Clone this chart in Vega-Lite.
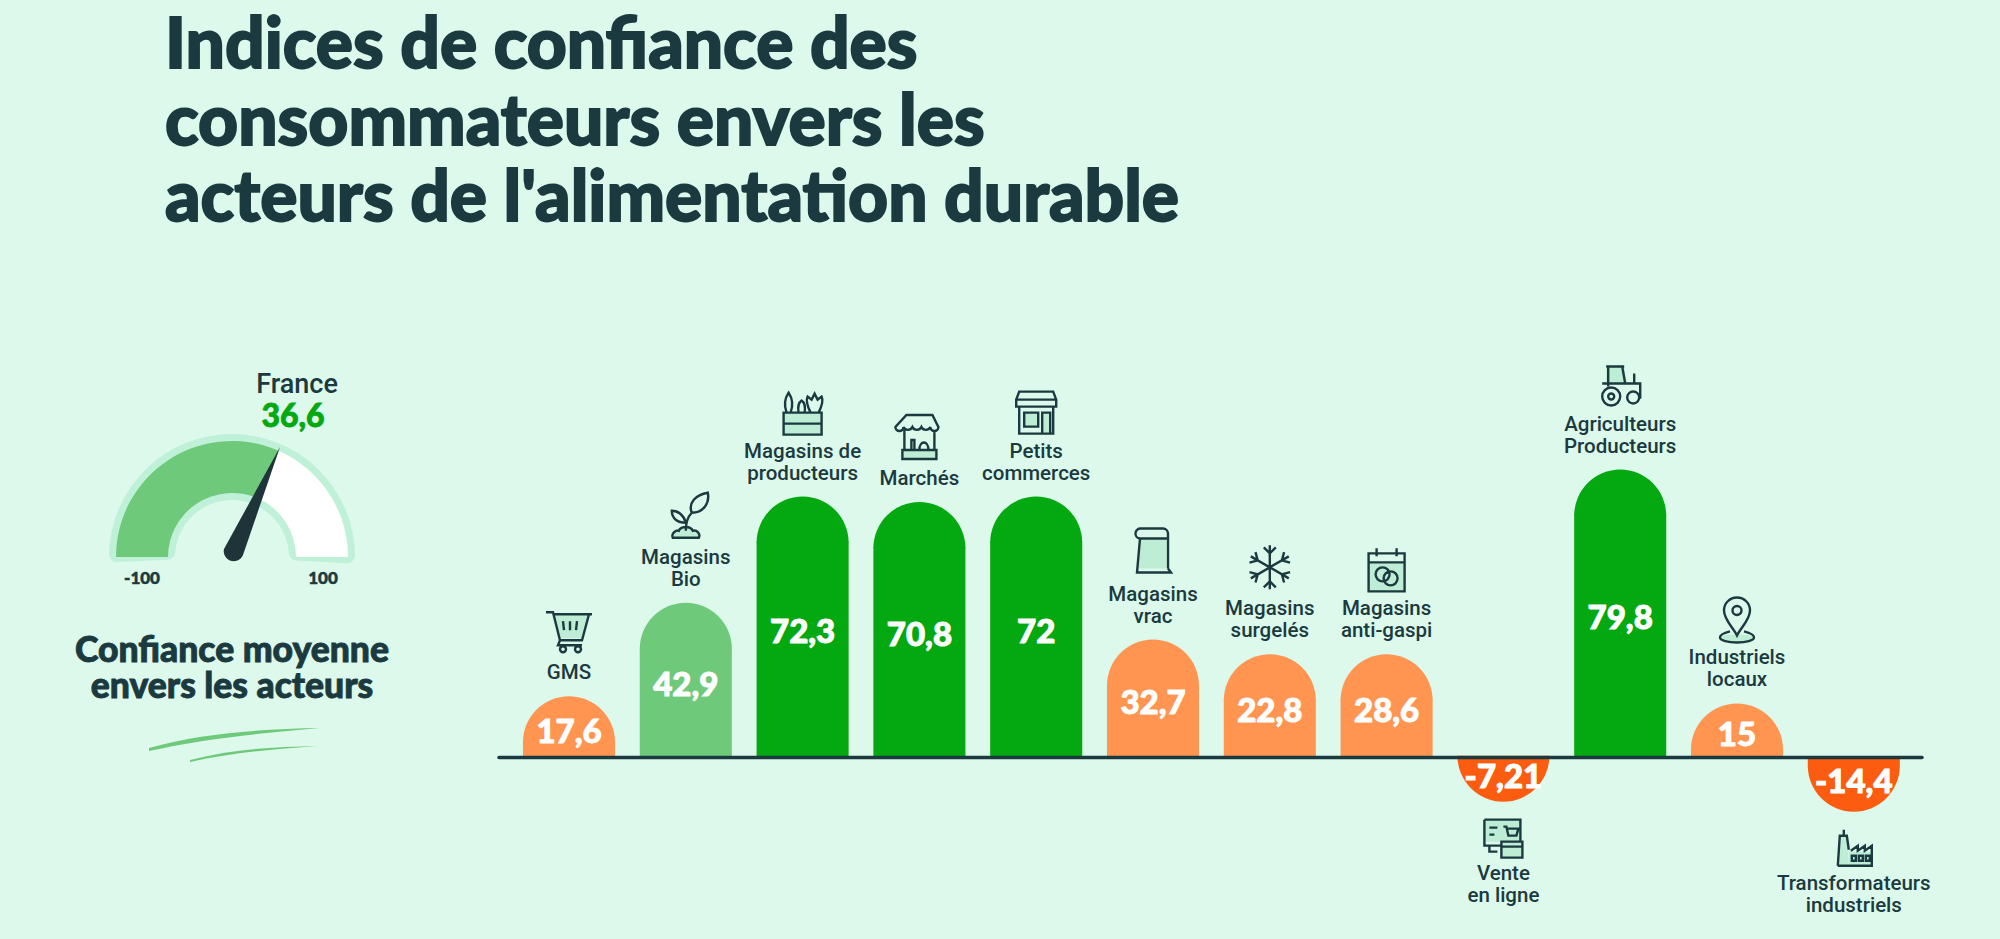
{
"$schema":"https://vega.github.io/schema/vega-lite/v6.json",
"autosize":{"type":"fit","contains":"padding"},
"width":2000,"height":939,"padding":0,
"background":"#dcf9eb",
"config":{"view":{"stroke":null}},
"datasets":{
"acteurs":[
{"acteur":"GMS","libelle":"GMS","valeur":17.6,"etiquette":"17,6","hauteur":17},
{"acteur":"Magasins Bio","libelle":"Magasins\nBio","valeur":42.9,"etiquette":"42,9","hauteur":42.9},
{"acteur":"Magasins de producteurs","libelle":"Magasins de\nproducteurs","valeur":72.3,"etiquette":"72,3","hauteur":72.3},
{"acteur":"Marchés","libelle":"Marchés","valeur":70.8,"etiquette":"70,8","hauteur":70.8},
{"acteur":"Petits commerces","libelle":"Petits\ncommerces","valeur":72,"etiquette":"72","hauteur":72.3},
{"acteur":"Magasins vrac","libelle":"Magasins\nvrac","valeur":32.7,"etiquette":"32,7","hauteur":32.7},
{"acteur":"Magasins surgelés","libelle":"Magasins\nsurgelés","valeur":22.8,"etiquette":"22,8","hauteur":28.6},
{"acteur":"Magasins anti-gaspi","libelle":"Magasins\nanti-gaspi","valeur":28.6,"etiquette":"28,6","hauteur":28.6},
{"acteur":"Vente en ligne","libelle":"Vente\nen ligne","valeur":-7.21,"etiquette":"-7,21","hauteur":-12.2},
{"acteur":"Agriculteurs Producteurs","libelle":"Agriculteurs\nProducteurs","valeur":79.8,"etiquette":"79,8","hauteur":79.8},
{"acteur":"Industriels locaux","libelle":"Industriels\nlocaux","valeur":15,"etiquette":"15","hauteur":15},
{"acteur":"Transformateurs industriels","libelle":"Transformateurs\nindustriels","valeur":-14.4,"etiquette":"-14,4","hauteur":-15}
],
"jauge":[
{"segment":"fond","debut":-103,"fin":103},
{"segment":"score","debut":-100,"fin":36.6},
{"segment":"reste","debut":36.6,"fin":100}
]
},
"layer":[
{"data":{"values":[{"texte":"Indices de confiance des\nconsommateurs envers les\nacteurs de l'alimentation durable"}]},
 "mark":{"type":"text","font":"Lato","fontWeight":900,"fontSize":69.5,"lineHeight":76.5,"lineBreak":"\n","align":"left","baseline":"top","color":"#1b3a40","stroke":"#1b3a40","strokeWidth":1.8},
 "encoding":{
  "x":{"datum":0,"type":"quantitative","scale":{"domain":[0,1],"range":[165,1200]},"axis":null},
  "y":{"datum":0,"type":"quantitative","scale":{"domain":[0,1],"range":[13,240]},"axis":null},
  "text":{"field":"texte"}}},
{"data":{"name":"jauge"},"transform":[{"filter":"datum.segment==='fond'"}],
 "mark":{"type":"arc","radius":123,"radius2":57,"cornerRadius":8,"fill":"#bff0d8"},
 "encoding":{
  "x":{"datum":0,"type":"quantitative","scale":{"domain":[-100,100],"range":[116,348]},"axis":null},
  "y":{"datum":0,"type":"quantitative","scale":{"domain":[0,1],"range":[557,440]},"axis":null},
  "theta":{"field":"debut","type":"quantitative","scale":{"domain":[-100,36.6,100],"range":[-1.5708,0.412,1.5708]}},
  "theta2":{"field":"fin"}}},
{"data":{"name":"jauge"},"transform":[{"filter":"datum.segment!=='fond'"}],
 "mark":{"type":"arc","radius":116,"radius2":64},
 "encoding":{
  "x":{"datum":0,"type":"quantitative","scale":{"domain":[-100,100],"range":[116,348]},"axis":null},
  "y":{"datum":0,"type":"quantitative","scale":{"domain":[0,1],"range":[557,440]},"axis":null},
  "theta":{"field":"debut","type":"quantitative","scale":{"domain":[-100,36.6,100],"range":[-1.5708,0.412,1.5708]}},
  "theta2":{"field":"fin"},
  "color":{"field":"segment","type":"nominal","scale":{"domain":["score","reste"],"range":["#6fc97a","#ffffff"]},"legend":null}}},
{"data":{"values":[{"indice":"France","valeur":36.6}]},
 "mark":{"type":"point","filled":true,"size":4,"opacity":1,"fill":"#1e3438","shape":"M48,-110L11,-2a10,10 0 0 1 -19,-6z"},
 "encoding":{
  "x":{"datum":0,"type":"quantitative","scale":{"domain":[-100,100],"range":[116,348]},"axis":null},
  "y":{"datum":0,"type":"quantitative","scale":{"domain":[0,1],"range":[557,440]},"axis":null}}},
{"data":{"values":[{"indice":"France","valeur":36.6}]},
 "mark":{"type":"point","filled":true,"size":4,"opacity":1,"fill":"#6fc97a","shape":"M-83,191C-30,176 30,172 88,171C30,176 -30,182 -83,194zM-42,203C0,192 40,190 86,189C40,192 0,196 -42,205z"},
 "encoding":{
  "x":{"datum":0,"type":"quantitative","scale":{"domain":[-100,100],"range":[116,348]},"axis":null},
  "y":{"datum":0,"type":"quantitative","scale":{"domain":[0,1],"range":[557,440]},"axis":null}}},
{"data":{"values":[{"texte":"France"}]},
 "mark":{"type":"text","font":"Roboto","fontWeight":500,"fontSize":27,"color":"#1b3a40","dx":65,"dy":-172},
 "encoding":{
  "x":{"datum":0,"type":"quantitative","scale":{"domain":[-100,100],"range":[116,348]},"axis":null},
  "y":{"datum":0,"type":"quantitative","scale":{"domain":[0,1],"range":[557,440]},"axis":null},
  "text":{"field":"texte"}}},
{"data":{"values":[{"texte":"36,6"}]},
 "mark":{"type":"text","font":"Lato","fontWeight":900,"fontSize":32,"color":"#04a811","stroke":"#04a811","strokeWidth":0.8,"dx":61,"dy":-140},
 "encoding":{
  "x":{"datum":0,"type":"quantitative","scale":{"domain":[-100,100],"range":[116,348]},"axis":null},
  "y":{"datum":0,"type":"quantitative","scale":{"domain":[0,1],"range":[557,440]},"axis":null},
  "text":{"field":"texte"}}},
{"data":{"values":[{"texte":"-100","borne":-100},{"texte":"100","borne":100}]},
 "mark":{"type":"text","font":"Lato","fontWeight":900,"fontSize":17,"color":"#1b3a40","stroke":"#1b3a40","strokeWidth":0.5,"dy":22},
 "encoding":{
  "x":{"field":"borne","type":"quantitative","scale":{"domain":[-100,100],"range":[142,323]},"axis":null},
  "y":{"datum":0,"type":"quantitative","scale":{"domain":[0,1],"range":[557,440]},"axis":null},
  "text":{"field":"texte"}}},
{"data":{"values":[{"texte":"Confiance moyenne\nenvers les acteurs"}]},
 "mark":{"type":"text","font":"Lato","fontWeight":900,"fontSize":35.5,"lineHeight":36,"lineBreak":"\n","color":"#1b3a40","stroke":"#1b3a40","strokeWidth":0.9,"dy":94,"baseline":"middle"},
 "encoding":{
  "x":{"datum":0,"type":"quantitative","scale":{"domain":[-100,100],"range":[116,348]},"axis":null},
  "y":{"datum":0,"type":"quantitative","scale":{"domain":[0,1],"range":[557,440]},"axis":null},
  "text":{"field":"texte"}}},
{"data":{"name":"acteurs"},
 "transform":[{"calculate":"datum.hauteur>0?datum.hauteur-12.44:datum.hauteur+12.44","as":"centre"}],
 "mark":{"type":"bar"},
 "encoding":{
  "x":{"field":"acteur","type":"nominal","sort":null,"axis":null,"scale":{"domain":["GMS","Magasins Bio","Magasins de producteurs","Marchés","Petits commerces","Magasins vrac","Magasins surgelés","Magasins anti-gaspi","Vente en ligne","Agriculteurs Producteurs","Industriels locaux","Transformateurs industriels"],"range":[510.6,1912.2],"paddingInner":0.212,"paddingOuter":0.106}},
  "y":{"field":"centre","type":"quantitative","axis":null,"scale":{"domain":[-50.25,209.86],"nice":false,"zero":false}},
  "color":{"field":"valeur","type":"quantitative","legend":null,"scale":{"type":"threshold","domain":[0,40,60],"range":["#fb5c10","#ff9550","#6fc97a","#04a811"]}}}},
{"data":{"name":"acteurs"},
 "transform":[{"filter":"datum.hauteur>0"},{"calculate":"datum.hauteur-12.74","as":"centre"}],
 "mark":{"type":"arc","radius":46,"theta":-1.5708,"theta2":1.5708},
 "encoding":{
  "x":{"field":"acteur","type":"nominal","sort":null,"axis":null,"scale":{"domain":["GMS","Magasins Bio","Magasins de producteurs","Marchés","Petits commerces","Magasins vrac","Magasins surgelés","Magasins anti-gaspi","Vente en ligne","Agriculteurs Producteurs","Industriels locaux","Transformateurs industriels"],"range":[510.6,1912.2],"paddingInner":0.212,"paddingOuter":0.106}},
  "y":{"field":"centre","type":"quantitative","axis":null,"scale":{"domain":[-50.25,209.86],"nice":false,"zero":false}},
  "color":{"field":"valeur","type":"quantitative","legend":null,"scale":{"type":"threshold","domain":[0,40,60],"range":["#fb5c10","#ff9550","#6fc97a","#04a811"]}}}},
{"data":{"name":"acteurs"},
 "transform":[{"filter":"datum.hauteur<0"},{"calculate":"datum.hauteur+12.74","as":"centre"}],
 "mark":{"type":"arc","radius":46,"theta":1.5708,"theta2":4.7124},
 "encoding":{
  "x":{"field":"acteur","type":"nominal","sort":null,"axis":null,"scale":{"domain":["GMS","Magasins Bio","Magasins de producteurs","Marchés","Petits commerces","Magasins vrac","Magasins surgelés","Magasins anti-gaspi","Vente en ligne","Agriculteurs Producteurs","Industriels locaux","Transformateurs industriels"],"range":[510.6,1912.2],"paddingInner":0.212,"paddingOuter":0.106}},
  "y":{"field":"centre","type":"quantitative","axis":null,"scale":{"domain":[-50.25,209.86],"nice":false,"zero":false}},
  "color":{"field":"valeur","type":"quantitative","legend":null,"scale":{"type":"threshold","domain":[0,40,60],"range":["#fb5c10","#ff9550","#6fc97a","#04a811"]}}}},
{"data":{"values":[{"role":"ligne de base"}]},
 "mark":{"type":"rule","stroke":"#1b3a40","strokeWidth":3.5,"strokeCap":"round"},
 "encoding":{
  "x":{"datum":0,"type":"quantitative","scale":{"domain":[0,1],"range":[499,1922]},"axis":null},
  "x2":{"datum":1},
  "y":{"datum":0,"type":"quantitative","axis":null,"scale":{"domain":[-50.25,209.86],"nice":false,"zero":false}}}},
{"data":{"name":"acteurs"},
 "transform":[{"calculate":"datum.hauteur>0?datum.hauteur*0.5-1.6:datum.hauteur*0.47","as":"milieu"}],
 "mark":{"type":"text","font":"Lato","fontWeight":900,"fontSize":33,"color":"#ffffff","stroke":"#ffffff","strokeWidth":1,"baseline":"middle"},
 "encoding":{
  "x":{"field":"acteur","type":"nominal","sort":null,"axis":null,"scale":{"domain":["GMS","Magasins Bio","Magasins de producteurs","Marchés","Petits commerces","Magasins vrac","Magasins surgelés","Magasins anti-gaspi","Vente en ligne","Agriculteurs Producteurs","Industriels locaux","Transformateurs industriels"],"range":[510.6,1912.2],"paddingInner":0.212,"paddingOuter":0.106}},
  "y":{"field":"milieu","type":"quantitative","axis":null,"scale":{"domain":[-50.25,209.86],"nice":false,"zero":false}},
  "text":{"field":"etiquette"}}},
{"data":{"name":"acteurs"},"transform":[{"filter":"datum.hauteur>0 && indexof(datum.libelle,'\\n')<0"}],
 "mark":{"type":"text","font":"Roboto","fontWeight":500,"fontSize":20.5,"lineHeight":22,"lineBreak":"\n","color":"#1b3a40","baseline":"bottom","dy":-13},
 "encoding":{
  "x":{"field":"acteur","type":"nominal","sort":null,"axis":null,"scale":{"domain":["GMS","Magasins Bio","Magasins de producteurs","Marchés","Petits commerces","Magasins vrac","Magasins surgelés","Magasins anti-gaspi","Vente en ligne","Agriculteurs Producteurs","Industriels locaux","Transformateurs industriels"],"range":[510.6,1912.2],"paddingInner":0.212,"paddingOuter":0.106}},
  "y":{"field":"hauteur","type":"quantitative","axis":null,"scale":{"domain":[-50.25,209.86],"nice":false,"zero":false}},
  "text":{"field":"libelle"}}},
{"data":{"name":"acteurs"},"transform":[{"filter":"datum.hauteur>0 && indexof(datum.libelle,'\\n')>=0"}],
 "mark":{"type":"text","font":"Roboto","fontWeight":500,"fontSize":20.5,"lineHeight":22,"lineBreak":"\n","color":"#1b3a40","baseline":"bottom","dy":-35},
 "encoding":{
  "x":{"field":"acteur","type":"nominal","sort":null,"axis":null,"scale":{"domain":["GMS","Magasins Bio","Magasins de producteurs","Marchés","Petits commerces","Magasins vrac","Magasins surgelés","Magasins anti-gaspi","Vente en ligne","Agriculteurs Producteurs","Industriels locaux","Transformateurs industriels"],"range":[510.6,1912.2],"paddingInner":0.212,"paddingOuter":0.106}},
  "y":{"field":"hauteur","type":"quantitative","axis":null,"scale":{"domain":[-50.25,209.86],"nice":false,"zero":false}},
  "text":{"field":"libelle"}}},
{"data":{"name":"acteurs"},"transform":[{"filter":"datum.hauteur<0"}],
 "mark":{"type":"text","font":"Roboto","fontWeight":500,"fontSize":20.5,"lineHeight":22,"lineBreak":"\n","color":"#1b3a40","baseline":"top","dy":62},
 "encoding":{
  "x":{"field":"acteur","type":"nominal","sort":null,"axis":null,"scale":{"domain":["GMS","Magasins Bio","Magasins de producteurs","Marchés","Petits commerces","Magasins vrac","Magasins surgelés","Magasins anti-gaspi","Vente en ligne","Agriculteurs Producteurs","Industriels locaux","Transformateurs industriels"],"range":[510.6,1912.2],"paddingInner":0.212,"paddingOuter":0.106}},
  "y":{"field":"hauteur","type":"quantitative","axis":null,"scale":{"domain":[-50.25,209.86],"nice":false,"zero":false}},
  "text":{"field":"libelle"}}},
{"data":{"name":"acteurs"},
 "mark":{"type":"point","filled":true,"size":4,"opacity":1,"fill":"#bdeed5","strokeWidth":0},
 "encoding":{
  "x":{"field":"acteur","type":"nominal","sort":null,"axis":null,"scale":{"domain":["GMS","Magasins Bio","Magasins de producteurs","Marchés","Petits commerces","Magasins vrac","Magasins surgelés","Magasins anti-gaspi","Vente en ligne","Agriculteurs Producteurs","Industriels locaux","Transformateurs industriels"],"range":[510.6,1912.2],"paddingInner":0.212,"paddingOuter":0.106}},
  "y":{"field":"hauteur","type":"quantitative","axis":null,"scale":{"domain":[-50.25,209.86],"nice":false,"zero":false}},
  "shape":{"field":"acteur","type":"nominal","legend":null,"scale":{"domain":["GMS","Magasins Bio","Magasins de producteurs","Marchés","Petits commerces","Magasins vrac","Magasins surgelés","Magasins anti-gaspi","Vente en ligne","Agriculteurs Producteurs","Industriels locaux","Transformateurs industriels"],
   "range":["M-15,-82l34,0l-6,24l-22,0z","M-13,-65c-2,-5 4,-8 6,-7c2,-5 12,-5 14,0c4,-1 8,3 6,7z","M-19,-84h38v22h-38z","M-17,-52h34v9h-34z","M-12,-84h14v14h-14zM6,-84h8v21h-8z","M-13,-101h26v30l-29,0z","M0,-87l1,0l0,1z","M-18,-92h36v29h-36z","M-2,40h21v16h-21zM-19,18h36v22h-36z","M-14,-103h18l3,18h-21z","M-17,-66c0,3 8,5 17,5c9,0 17,-2 17,-5c0,-2 -8,-3 -17,-3c-9,0 -17,1 -17,3z","M-16,54l2,-30h7l2,30zM-5,54v-14h23v14z"]}}}},
{"data":{"name":"acteurs"},
 "mark":{"type":"point","filled":false,"size":4,"opacity":1,"stroke":"#1b3a40","strokeWidth":2.4},
 "encoding":{
  "x":{"field":"acteur","type":"nominal","sort":null,"axis":null,"scale":{"domain":["GMS","Magasins Bio","Magasins de producteurs","Marchés","Petits commerces","Magasins vrac","Magasins surgelés","Magasins anti-gaspi","Vente en ligne","Agriculteurs Producteurs","Industriels locaux","Transformateurs industriels"],"range":[510.6,1912.2],"paddingInner":0.212,"paddingOuter":0.106}},
  "y":{"field":"hauteur","type":"quantitative","axis":null,"scale":{"domain":[-50.25,209.86],"nice":false,"zero":false}},
  "shape":{"field":"acteur","type":"nominal","legend":null,"scale":{"domain":["GMS","Magasins Bio","Magasins de producteurs","Marchés","Petits commerces","Magasins vrac","Magasins surgelés","Magasins anti-gaspi","Vente en ligne","Agriculteurs Producteurs","Industriels locaux","Transformateurs industriels"],
   "range":[
   "M-23,-84l7,0l7,28l22,0l7,-26m3,0l-38,0M-9,-56l-2,5l24,0M-9,-47a3,3 0 1,0 6,0a3,3 0 1,0 -6,0M6,-47a3,3 0 1,0 6,0a3,3 0 1,0 -6,0M-6,-75l1,9M1,-75l0,9M8,-75l-1,9",
   "M0,-72c0,-8 2,-14 6,-18M6,-90c-4,-10 4,-18 16,-20c2,10 -4,20 -16,20zM0,-80c-2,-8 -8,-12 -14,-12c0,8 6,12 14,12zM-13,-65c-2,-5 4,-8 6,-7c2,-5 12,-5 14,0c4,-1 8,3 6,7z",
   "M-19,-84h38v22h-38zM-19,-73h38M-16,-84c-3,-8 -2,-14 2,-20c4,6 5,12 2,20M-4,-84c-1,-6 0,-10 3,-12c3,2 4,6 3,12M8,-84c-3,-6 -5,-12 -3,-16l4,3l3,-6l3,6l4,-3c2,4 0,10 -3,16",
   "M-13,-87h26l6,12a4,4 0 0 1 -8,0a5,5 0 0 1 -9,0a5,5 0 0 1 -9,0a5,5 0 0 1 -9,0a4,4 0 0 1 -8,0zM-15,-72v20M15,-72v20M-17,-52h34v9h-34zM-8,-52v-10h3v10M0,-52c0,-10 9,-10 9,0",
   "M-17,-105h34l3,8v7h-40v-7zM-20,-97h40M-17,-90v27h34v-27M-12,-84h14v14h-14zM6,-84h8v21h-8z",
   "M-12,-111h22a5,5 0 0 1 5,5v35M-12,-111a5,5 0 0 0 -1,10l-3,34h31M15,-71l3,4h-3M-13,-101h28",
   "M0,-109v44M-19,-98l38,22M19,-98l-38,22M-6,-107l6,6l6,-6M-6,-67l6,-6l6,6M14.3,-102.2L12.1,-94L20.3,-91.8M20.3,-82.2L12.1,-80L14.3,-71.8M-14.3,-102.2L-12.1,-94L-20.3,-91.8M-20.3,-82.2L-12.1,-80L-14.3,-71.8",
   "M-18,-101h36v38h-36zM-18,-92h36M-10,-106v8M10,-106v8M-11,-80a7,7 0 1,0 14,0a7,7 0 1,0 -14,0M-3,-76a7,7 0 1,0 14,0a7,7 0 1,0 -14,0",
   "M-19,18h36v22M-2,44h-17v-26M-14,26h8M-14,33h5M0,25h3l2,9h8l2,-7h-12M-2,40h21v16h-21zM-2,45h21M-14,44v6h8",
   "M-14,-103h18M-12,-103v20M2,-103l3,17M-18,-86h23M5,-86h15v14h-1M14,-86v-10M-18,-73a9,9 0 1,0 18,0a9,9 0 1,0 -18,0M-12,-73a3,3 0 1,0 6,0a3,3 0 1,0 -6,0M7,-72a6,6 0 1,0 12,0a6,6 0 1,0 -12,0",
   "M0,-68c-4,-8 -13,-16 -13,-25a13,13 0 0 1 26,0c0,9 -9,17 -13,25zM-4.5,-93a4.5,4.5 0 1 0 9,0a4.5,4.5 0 1 0 -9,0M-7,-72c-8,2 -10,4 -10,6c0,3 8,5 17,5c9,0 17,-2 17,-5c0,-2 -2,-4 -10,-6",
   "M-16,54h34v-20l-7,5v-5l-7,5v-5l-7,5M-16,54l2,-30h7l2,14M-10,24v-6M-2,44h4v5h-4zM5,44h4v5h-4zM12,44h4v5h-4z"
   ]}}}}
],
"resolve":{"scale":{"x":"independent","y":"independent","shape":"independent","color":"independent","theta":"independent"}}
}
